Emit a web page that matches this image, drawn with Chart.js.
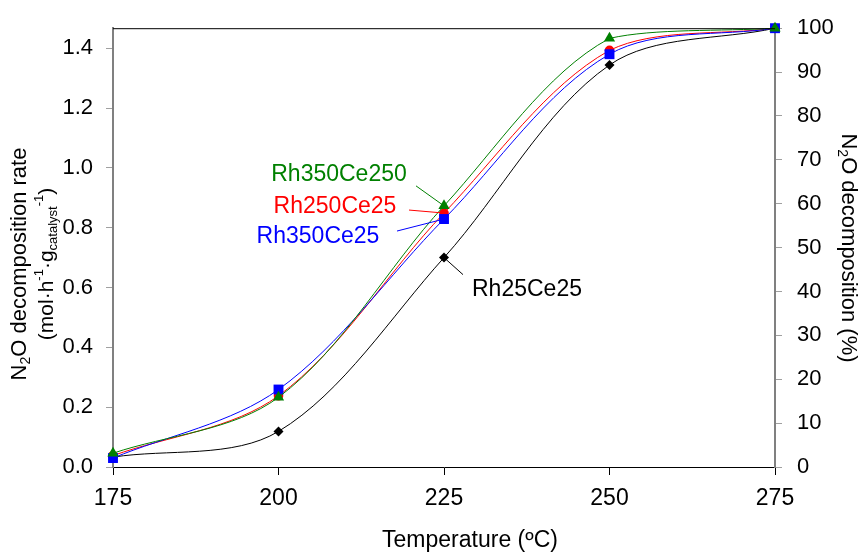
<!DOCTYPE html>
<html>
<head>
<meta charset="utf-8">
<script src="https://cdn.jsdelivr.net/npm/chart.js@4.4.1/dist/chart.umd.min.js"></script>
<style>
  html, body { margin: 0; padding: 0; background: #fff; }
  #wrap { width: 865px; height: 553px; }
</style>
</head>
<body>
<div id="wrap"><canvas id="grafico" width="865" height="553"></canvas></div>
<script>
// temperatures (ºC)
const temps = [175, 200, 225, 250, 275];

// N2O decomposition rate (mol·h-1·g-1)
const rh350ce250 = [0.046, 0.233, 0.873, 1.433, 1.467];
const rh350ce25  = [0.030, 0.259, 0.829, 1.380, 1.467];
const rh250ce25  = [0.038, 0.238, 0.849, 1.393, 1.467];
const rh25ce25   = [0.033, 0.119, 0.700, 1.344, 1.467];

const xTicks = [175, 200, 225, 250, 275];
const leftTicks = [0, 0.2, 0.4, 0.6, 0.8, 1.0, 1.2, 1.4];
const rightTicks = [0, 10, 20, 30, 40, 50, 60, 70, 80, 90, 100];
const rateMax = 1.467; // = 100 %

const FONT = "'Liberation Sans', Arial, sans-serif";

function pts(vals) {
    return temps.map((t, i) => ({ x: t, y: vals[i] }));
}

// labels pointing at the 225 ºC points (offsets in px from the point)
const etiquetas = [
    { text: "Rh350Ce250", color: "#008000", serie: 0, dx: -105, dy: -31, lx: -28, ly: -20, align: "center" },
    { text: "Rh250Ce25",  color: "#ff0000", serie: 2, dx: -109, dy: -6,  lx: -35, ly: -3,  align: "center" },
    { text: "Rh350Ce25",  color: "#0000ff", serie: 1, dx: -126, dy: 18,  lx: -47, ly: 12,  align: "center" },
    { text: "Rh25Ce25",   color: "#000000", serie: 3, dx: 28,   dy: 32,  lx: 19,  ly: 17,  align: "left" }
];

function richText(ctx, parts, size) {
    // parts: [text, kind] kind: 0 normal, 1 sub, 2 sup
    let w = 0;
    parts.forEach(p => {
        ctx.font = (p[1] ? Math.round(size * 0.64) : size) + "px " + FONT;
        p.w = ctx.measureText(p[0]).width;
        w += p.w;
    });
    let x = -w / 2;
    parts.forEach(p => {
        ctx.font = (p[1] ? Math.round(size * 0.64) : size) + "px " + FONT;
        const dy = p[1] === 1 ? size * 0.3 : p[1] === 2 ? -size * 0.38 : 0;
        ctx.fillText(p[0], x, dy);
        x += p.w;
    });
}

const extras = {
    id: "extras",
    afterDatasetsDraw(chart) {
        const ctx = chart.ctx;
        const a = chart.chartArea;
        const xs = chart.scales.x, ys = chart.scales.y;
        ctx.save();
        // top border
        ctx.strokeStyle = "#000";
        ctx.lineWidth = 1;
        ctx.beginPath();
        ctx.moveTo(a.left, a.top + 0.5);
        ctx.lineTo(a.right, a.top + 0.5);
        ctx.stroke();

        // labels with leader lines
        etiquetas.forEach(e => {
            const d = chart.data.datasets[e.serie].data[2];
            const px = xs.getPixelForValue(d.x);
            const py = ys.getPixelForValue(d.y);
            ctx.strokeStyle = e.color;
            ctx.beginPath();
            ctx.moveTo(px, py);
            ctx.lineTo(px + e.lx, py + e.ly);
            ctx.stroke();
            ctx.fillStyle = e.color;
            ctx.font = "23px " + FONT;
            ctx.textBaseline = "middle";
            ctx.textAlign = e.align;
            ctx.fillText(e.text, px + e.dx, py + e.dy);
        });

        // axis titles
        ctx.fillStyle = "#000";
        ctx.textBaseline = "middle";
        ctx.textAlign = "left";
        ctx.save();
        ctx.translate(470, 541);
        richText(ctx, [["Temperature (ºC)", 0]], 23);
        ctx.restore();

        ctx.save();
        ctx.translate(20, 264);
        ctx.rotate(-Math.PI / 2);
        richText(ctx, [["N", 0], ["2", 1], ["O decomposition rate", 0]], 22);
        ctx.restore();

        ctx.save();
        ctx.translate(47, 264);
        ctx.rotate(-Math.PI / 2);
        richText(ctx, [["(mol·h", 0], ["-1", 2], ["·g", 0], ["catalyst", 1], ["-1", 2], [")", 0]], 21);
        ctx.restore();

        ctx.save();
        ctx.translate(848, 248);
        ctx.rotate(Math.PI / 2);
        richText(ctx, [["N", 0], ["2", 1], ["O decomposition (%)", 0]], 22);
        ctx.restore();

        ctx.restore();
    }
};

function serie(label, vals, color, style, radius) {
    return {
        label: label,
        data: pts(vals),
        borderColor: color,
        backgroundColor: color,
        borderWidth: 1,
        pointStyle: style,
        pointRadius: radius,
        pointBorderWidth: 0,
        pointBackgroundColor: color,
        tension: 0.33,
        clip: false
    };
}

const ctx = document.getElementById("grafico").getContext("2d");
const myChart = new Chart(ctx, {
    type: "line",
    data: {
        datasets: [
            serie("Rh350Ce250", rh350ce250, "#008000", "triangle", 6.5),
            serie("Rh350Ce25", rh350ce25, "#0000ff", "rect", 7),
            serie("Rh250Ce25", rh250ce25, "#ff0000", "circle", 4.8),
            serie("Rh25Ce25", rh25ce25, "#000000", "rectRot", 5)
        ]
    },
    options: {
        responsive: false,
        animation: false,
        layout: { padding: { top: 24, left: 0, right: 0, bottom: 0 } },
        plugins: {
            legend: { display: false },
            tooltip: { enabled: false }
        },
        scales: {
            x: {
                type: "linear",
                min: 175,
                max: 275,
                afterBuildTicks: s => { s.ticks = xTicks.map(v => ({ value: v })); },
                afterFit: s => { s.height = 86; },
                ticks: {
                    color: "#000",
                    padding: 10,
                    font: { family: FONT, size: 23 },
                    maxRotation: 0
                },
                grid: { drawOnChartArea: false, drawTicks: true, tickLength: 8, color: "#000" },
                border: { color: "#000", width: 1 }
            },
            y: {
                position: "left",
                min: 0,
                max: rateMax,
                afterBuildTicks: s => { s.ticks = leftTicks.map(v => ({ value: v })); },
                afterFit: s => { s.width = 113; },
                ticks: {
                    color: "#000",
                    padding: 13,
                    font: { family: FONT, size: 22 },
                    callback: v => v.toFixed(1)
                },
                grid: { drawOnChartArea: false, drawTicks: true, tickLength: 7, color: "#a0a0a0" },
                border: { color: "#808080", width: 2 }
            },
            y2: {
                position: "right",
                min: 0,
                max: 100,
                afterBuildTicks: s => { s.ticks = rightTicks.map(v => ({ value: v })); },
                afterFit: s => { s.width = 90; },
                ticks: {
                    color: "#000",
                    padding: 15,
                    font: { family: FONT, size: 22 }
                },
                grid: { drawOnChartArea: false, drawTicks: true, tickLength: 7, color: "#a0a0a0" },
                border: { color: "#808080", width: 2 }
            }
        }
    },
    plugins: [extras]
});
</script>
</body>
</html>
